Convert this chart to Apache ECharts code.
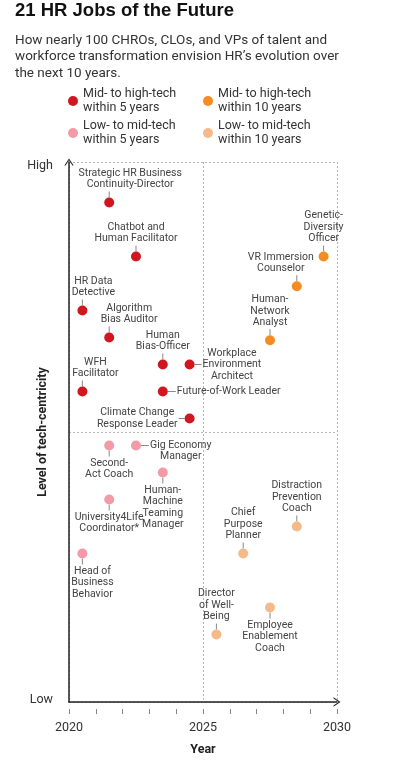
<!DOCTYPE html>
<html>
<head>
<meta charset="utf-8">
<script src="https://cdn.jsdelivr.net/npm/echarts@6/dist/echarts.min.js"></script>
<style>
html,body{margin:0;padding:0;background:#fff;}
#chart{width:395px;height:761px;}
</style>
</head>
<body>
<div id="chart"></div>
<script>
// ---- Data ----
const seriesNames = [
  'Mid- to high-tech\nwithin 5 years',
  'Mid- to high-tech\nwithin 10 years',
  'Low- to mid-tech\nwithin 5 years',
  'Low- to mid-tech\nwithin 10 years'
];

// Mid- to high-tech within 5 years
const hi5Names = ['Strategic HR Business\nContinuity-Director', 'Chatbot and\nHuman Facilitator', 'HR Data\nDetective', 'Algorithm\nBias Auditor', 'Human\nBias-Officer', 'Workplace\nEnvironment\nArchitect', 'WFH\nFacilitator', 'Future-of-Work Leader', 'Climate Change\nResponse Leader'];
const hi5Years = [2021.5, 2022.5, 2020.5, 2021.5, 2023.5, 2024.5, 2020.5, 2023.5, 2024.5];
const hi5Tech  = [18.5, 16.5, 14.5, 13.5, 12.5, 12.5, 11.5, 11.5, 10.5];

// Mid- to high-tech within 10 years
const hi10Names = ['Genetic-\nDiversity\nOfficer', 'VR Immersion\nCounselor', 'Human-\nNetwork\nAnalyst'];
const hi10Years = [2029.5, 2028.5, 2027.5];
const hi10Tech  = [16.5, 15.4, 13.4];

// Low- to mid-tech within 5 years
const lo5Names = ['Second-\nAct Coach', 'Gig Economy\nManager', 'Human-\nMachine\nTeaming\nManager', 'University4Life\nCoordinator*', 'Head of\nBusiness\nBehavior'];
const lo5Years = [2021.5, 2022.5, 2023.5, 2021.5, 2020.5];
const lo5Tech  = [9.5, 9.5, 8.5, 7.5, 5.5];

// Low- to mid-tech within 10 years
const lo10Names = ['Distraction\nPrevention\nCoach', 'Chief\nPurpose\nPlanner', 'Employee\nEnablement\nCoach', 'Director\nof Well-\nBeing'];
const lo10Years = [2028.5, 2026.5, 2027.5, 2025.5];
const lo10Tech  = [6.5, 5.5, 3.5, 2.5];

// Axis
const yearMin = 2020, yearMax = 2030;
const yearTickLabels = [2020, 2025, 2030];
const techMin = 0, techMax = 20;
const techLabels = { 0: 'Low', 20: 'High' };

// ---- Styles / layout ----
const colors = ['#d0161f', '#f68b21', '#f29aa6', '#f6b98a'];
const labelFont = 'Roboto, "Liberation Sans", sans-serif';
const uiFont = 'Roboto, "Liberation Sans", sans-serif';
const dotSize = 10;
const labelPlacement = {
  'Strategic HR Business\nContinuity-Director': { position: 'top', lead: 6, offset: [21, 0] },
  'HR Data\nDetective': { position: 'top', lead: 6, offset: [11, 0] },
  'Algorithm\nBias Auditor': { position: 'top', lead: 6, offset: [20, 0] },
  'WFH\nFacilitator': { position: 'top', lead: 6, offset: [13, 0] },
  'VR Immersion\nCounselor': { position: 'top', lead: 6, offset: [-16, 0] },
  'Workplace\nEnvironment\nArchitect': { position: 'right', lead: 7 },
  'Future-of-Work Leader': { position: 'right', lead: 8 },
  'Climate Change\nResponse Leader': { position: 'left', lead: 6 },
  'Gig Economy\nManager': { position: 'right', lead: 8, offset: [0, 5.5] },
  'Second-\nAct Coach': { position: 'bottom', lead: 6 },
  'Human-\nMachine\nTeaming\nManager': { position: 'bottom', lead: 6 },
  'University4Life\nCoordinator*': { position: 'bottom', lead: 6 },
  'Head of\nBusiness\nBehavior': { position: 'bottom', lead: 6, offset: [10, 0] },
  'Employee\nEnablement\nCoach': { position: 'bottom', lead: 6 }
};
const defaultPlacement = { position: 'top', lead: 6 };
const placementOf = n => labelPlacement[n] || defaultPlacement;

function buildData(names, years, tech) {
  return names.map((n, i) => {
    const p = placementOf(n);
    const lab = { position: p.position, distance: p.lead + 1 };
    if (p.offset) lab.offset = p.offset;
    return { name: n, value: [years[i], tech[i]], label: lab };
  });
}

const seriesData = [
  buildData(hi5Names, hi5Years, hi5Tech),
  buildData(hi10Names, hi10Years, hi10Tech),
  buildData(lo5Names, lo5Years, lo5Tech),
  buildData(lo10Names, lo10Years, lo10Tech)
];

// leader lines: drawn from each data point through the axis scale
const leaderItems = [];
[[hi5Names, hi5Years, hi5Tech], [hi10Names, hi10Years, hi10Tech], [lo5Names, lo5Years, lo5Tech], [lo10Names, lo10Years, lo10Tech]]
  .forEach(([names, years, tech]) => names.forEach((n, i) => leaderItems.push({ name: n, value: [years[i], tech[i]] })));

const chevron = 'path://M0,9 L6,0 L12,9 L10.4,9 L6,2.4 L1.6,9 Z';
const dashStyle = { color: '#b5b5b5', width: 1, type: [2, 2] };

const legendPos = [
  { left: 68, top: 80 },
  { left: 203, top: 80 },
  { left: 68, top: 112 },
  { left: 203, top: 112 }
];

const chart = echarts.init(document.getElementById('chart'), null, { renderer: 'canvas' });
chart.setOption({
  animation: false,
  backgroundColor: '#fff',
  color: colors,
  title: {
    text: '21 HR Jobs of the Future',
    subtext: 'How nearly 100 CHROs, CLOs, and VPs of talent and\nworkforce transformation envision HR\u2019s evolution over\nthe next 10 years.',
    left: 15, top: 0, padding: 0, itemGap: 10,
    textStyle: { fontFamily: '"Liberation Sans", sans-serif', fontWeight: 'bold', fontSize: 18.5, color: '#111', lineHeight: 22 },
    subtextStyle: { fontFamily: uiFont, fontSize: 13.5, color: '#333', lineHeight: 16.5 }
  },
  legend: seriesNames.map((n, i) => ({
    data: [n], left: legendPos[i].left, top: legendPos[i].top,
    orient: 'vertical', icon: 'circle', itemWidth: 10, itemHeight: 10,
    itemGap: 0, padding: 0, selectedMode: false,
    textStyle: { fontFamily: uiFont, fontSize: 12.5, lineHeight: 14, color: '#333', padding: [14, 0, 0, 0] }
  })),
  grid: { left: 69, right: 58, top: 162, bottom: 59, containLabel: false, outerBoundsMode: 'none' },
  xAxis: [
    {
      type: 'value', min: yearMin, max: yearMax, interval: 5, position: 'bottom',
      axisLine: { show: true, symbol: ['none', chevron], symbolSize: [10, 7], lineStyle: { color: '#222', width: 1.5 } },
      axisTick: { show: false }, axisLabel: { show: false },
      splitLine: { show: true, lineStyle: dashStyle }
    },
    {
      type: 'value', min: yearMin, max: yearMax, interval: 1, position: 'bottom', offset: 7,
      axisLine: { show: false },
      axisTick: { show: true, length: 5, lineStyle: { color: '#888', width: 1 } },
      axisLabel: {
        margin: 12, fontFamily: uiFont, fontSize: 12.5, color: '#333',
        formatter: v => yearTickLabels.indexOf(v) >= 0 ? String(v) : ''
      },
      splitLine: { show: false },
      name: 'Year', nameLocation: 'middle', nameGap: 34, nameMoveOverlap: false,
      nameTextStyle: { fontFamily: uiFont, fontWeight: 'bold', fontSize: 12.5, color: '#222' }
    }
  ],
  yAxis: {
    type: 'value', min: techMin, max: techMax, interval: 10,
    axisLine: { show: true, symbol: ['none', chevron], symbolSize: [10, 7], lineStyle: { color: '#222', width: 1.5 } },
    axisTick: { show: false },
    axisLabel: {
      margin: 16, fontFamily: uiFont, fontSize: 12.5, color: '#333',
      formatter: v => v === techMax ? '{h|' + techLabels[v] + '}' : (v === techMin ? '{l|' + techLabels[v] + '}' : ''),
      rich: {
        h: { fontFamily: uiFont, fontSize: 12.5, color: '#333', padding: [8, 0, 0, 0] },
        l: { fontFamily: uiFont, fontSize: 12.5, color: '#333', padding: [0, 0, 4, 0] }
      }
    },
    splitLine: { show: true, lineStyle: dashStyle },
    name: 'Level of tech-centricity', nameLocation: 'middle', nameRotate: 90, nameGap: 20, nameMoveOverlap: false,
    nameTextStyle: { fontFamily: uiFont, fontWeight: 'bold', fontSize: 12.5, color: '#222' }
  },
  series: [
    {
      type: 'custom', name: 'leaders', silent: true, z: 1,
      data: leaderItems,
      renderItem: (params, api) => {
        const pt = api.coord([api.value(0), api.value(1)]);
        const p = placementOf(leaderItems[params.dataIndex].name);
        const r = dotSize / 2;
        let x1 = pt[0], y1 = pt[1], x2 = pt[0], y2 = pt[1];
        if (p.position === 'top') { y1 = pt[1] - r; y2 = y1 - p.lead; }
        else if (p.position === 'bottom') { y1 = pt[1] + r; y2 = y1 + p.lead; }
        else if (p.position === 'right') { x1 = pt[0] + r; x2 = x1 + p.lead; }
        else { x1 = pt[0] - r; x2 = x1 - p.lead; }
        return { type: 'line', shape: { x1, y1, x2, y2 }, style: { stroke: '#888', lineWidth: 1 } };
      }
    }
  ].concat(seriesNames.map((n, i) => ({
    name: n, type: 'scatter', xAxisIndex: 0, yAxisIndex: 0, z: 3,
    symbol: 'circle', symbolSize: dotSize, silent: true,
    emphasis: { disabled: true },
    itemStyle: { color: colors[i], opacity: 1 },
    data: seriesData[i],
    label: {
      show: true,
      formatter: p => p.name.split('\n').map(s => '{c|' + s + '}').join('\n'),
      fontFamily: labelFont, fontSize: 10.5, lineHeight: 11.5, color: '#444',
      rich: { c: { align: 'center', fontFamily: labelFont, fontSize: 10.5, lineHeight: 11.5, color: '#444' } }
    }
  })))
});
</script>
</body>
</html>
